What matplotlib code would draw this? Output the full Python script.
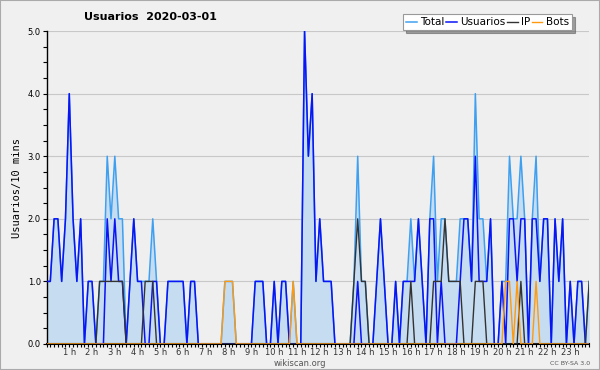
import numpy as np
import matplotlib
matplotlib.use("Agg")
import matplotlib.pyplot as plt
from matplotlib.patches import Rectangle

# 10-minute slots for 2020-03-01 (144 values, 00:00 .. 23:50)
usuarios = [
    1, 1, 2, 2, 1, 2,   4, 2, 1, 2, 0, 1,   1, 0, 0, 0, 2, 1,   2, 1, 1, 0, 1, 2,
    1, 1, 0, 0, 1, 1,   0, 0, 1, 1, 1, 1,   1, 0, 1, 1, 0, 0,   0, 0, 0, 0, 0, 0,
    0, 0, 0, 0, 0, 0,   0, 1, 1, 1, 0, 0,   1, 0, 1, 1, 0, 0,   0, 0, 5, 3, 4, 1,
    2, 1, 1, 1, 0, 0,   0, 0, 0, 0, 1, 0,   0, 0, 0, 1, 2, 1,   0, 0, 1, 0, 1, 1,
    1, 1, 2, 1, 0, 2,   2, 0, 1, 0, 0, 0,   0, 1, 2, 2, 1, 3,   1, 1, 1, 2, 0, 0,
    1, 0, 2, 2, 1, 2,   2, 0, 2, 2, 1, 2,   2, 0, 2, 1, 2, 0,   1, 0, 1, 1, 0, 0,
]
ip = [
    0, 0, 0, 0, 0, 0,   0, 0, 0, 0, 0, 0,   0, 0, 1, 1, 1, 1,   1, 1, 1, 0, 0, 0,
    0, 0, 1, 1, 1, 0,   0, 0, 0, 0, 0, 0,   0, 0, 0, 0, 0, 0,   0, 0, 0, 0, 0, 0,
    0, 0, 0, 0, 0, 0,   0, 0, 0, 0, 0, 0,   0, 0, 0, 0, 0, 0,   0, 0, 0, 0, 0, 0,
    0, 0, 0, 0, 0, 0,   0, 0, 0, 1, 2, 1,   1, 0, 0, 0, 0, 0,   0, 0, 0, 0, 0, 0,
    1, 0, 0, 0, 0, 0,   1, 1, 1, 2, 1, 1,   1, 1, 0, 0, 0, 1,   1, 1, 0, 0, 0, 0,
    0, 0, 0, 0, 0, 1,   0, 0, 0, 0, 0, 0,   0, 0, 0, 0, 0, 0,   0, 0, 0, 0, 0, 1,
]
bots = [
    0, 0, 0, 0, 0, 0,   0, 0, 0, 0, 0, 0,   0, 0, 0, 0, 0, 0,   0, 0, 0, 0, 0, 0,
    0, 0, 0, 0, 0, 0,   0, 0, 0, 0, 0, 0,   0, 0, 0, 0, 0, 0,   0, 0, 0, 0, 0, 1,
    1, 1, 0, 0, 0, 0,   0, 0, 0, 0, 0, 0,   0, 0, 0, 0, 0, 1,   0, 0, 0, 0, 0, 0,
    0, 0, 0, 0, 0, 0,   0, 0, 0, 0, 0, 0,   0, 0, 0, 0, 0, 0,   0, 0, 0, 0, 0, 0,
    0, 0, 0, 0, 0, 0,   0, 0, 0, 0, 0, 0,   0, 0, 0, 0, 0, 0,   0, 0, 0, 0, 0, 0,
    0, 1, 1, 0, 1, 0,   0, 0, 0, 1, 0, 0,   0, 0, 0, 0, 0, 0,   0, 0, 0, 0, 0, 0,
]
total = [u + i + b for u, i, b in zip(usuarios, ip, bots)]

hour_labels = ["%d h" % h for h in range(1, 24)]
series_names = ["Total", "Usuarios", "IP", "Bots"]

bg = "#f0f0f0"
c_total = "#3fa0f0"
c_fill = "#c6dcf0"
c_user = "#0a14f5"
c_ip = "#333333"
c_bots = "#ff9a10"

fig = plt.figure(figsize=(6.0, 3.7), dpi=100, facecolor=bg)
ax = fig.add_axes([0.0775, 0.0703, 0.9045, 0.8457])
ax.set_facecolor("#efeff0")

x = np.arange(len(total))
ax.fill_between(x, 0, total, color=c_fill, linewidth=0, zorder=1)
ax.plot(x, total, color=c_total, lw=1.1, label=series_names[0], zorder=2)
ax.plot(x, usuarios, color=c_user, lw=1.1, label=series_names[1], zorder=3)
ax.plot(x, ip, color=c_ip, lw=1.0, label=series_names[2], zorder=4)
ax.plot(x, bots, color=c_bots, lw=1.0, label=series_names[3], zorder=5)

ax.set_xlim(0, len(total) - 1)
ax.set_ylim(0, 5)

# axes look
for s in ["top", "right"]:
    ax.spines[s].set_visible(False)
ax.spines["left"].set_linewidth(1.0)
ax.spines["bottom"].set_linewidth(1.5)
ax.yaxis.grid(True, color="#c8c8c8", lw=0.8, zorder=0)
ax.set_axisbelow(True)

ax.set_yticks(np.arange(0, 6, 1))
ax.set_yticklabels(["%.1f" % v for v in range(6)], fontsize=6)
ax.set_yticks(np.arange(0, 5.01, 0.25), minor=True)
ax.set_xticks(np.arange(6, 144, 6))
ax.set_xticklabels(hour_labels, fontsize=6, color="#333333")
ax.set_xticks(x, minor=True)
ax.tick_params(axis="x", which="both", length=2.5, width=0.8, pad=0.5)
ax.tick_params(axis="y", which="both", length=3, width=0.8, pad=1)

ax.set_ylabel("Usuarios/10 mins", family="DejaVu Sans Mono", fontsize=7.5, labelpad=4)

fig.text(0.25, 0.953, "Usuarios  2020-03-01", ha="center", va="center",
         fontsize=8, fontweight="bold")

leg = fig.legend(loc="upper right", bbox_to_anchor=(0.953, 0.962), ncol=4,
                 fontsize=7.5, frameon=True, fancybox=False, shadow=True,
                 handlelength=1.0, handletextpad=0.3, columnspacing=0.2,
                 borderpad=0.3, borderaxespad=0)
leg.get_frame().set_edgecolor("#999999")
leg.get_frame().set_linewidth(0.8)

fig.text(0.5, 0.018, "wikiscan.org", ha="center", va="center", fontsize=6, color="#555555")
fig.text(0.95, 0.018, "CC BY-SA 3.0", ha="center", va="center", fontsize=4.5, color="#555555")

fig.patches.append(Rectangle((0, 0), 1, 1, transform=fig.transFigure, fill=False,
                             edgecolor="#aaaaaa", lw=1.5))

fig.savefig("out.png", dpi=100, facecolor=bg)
